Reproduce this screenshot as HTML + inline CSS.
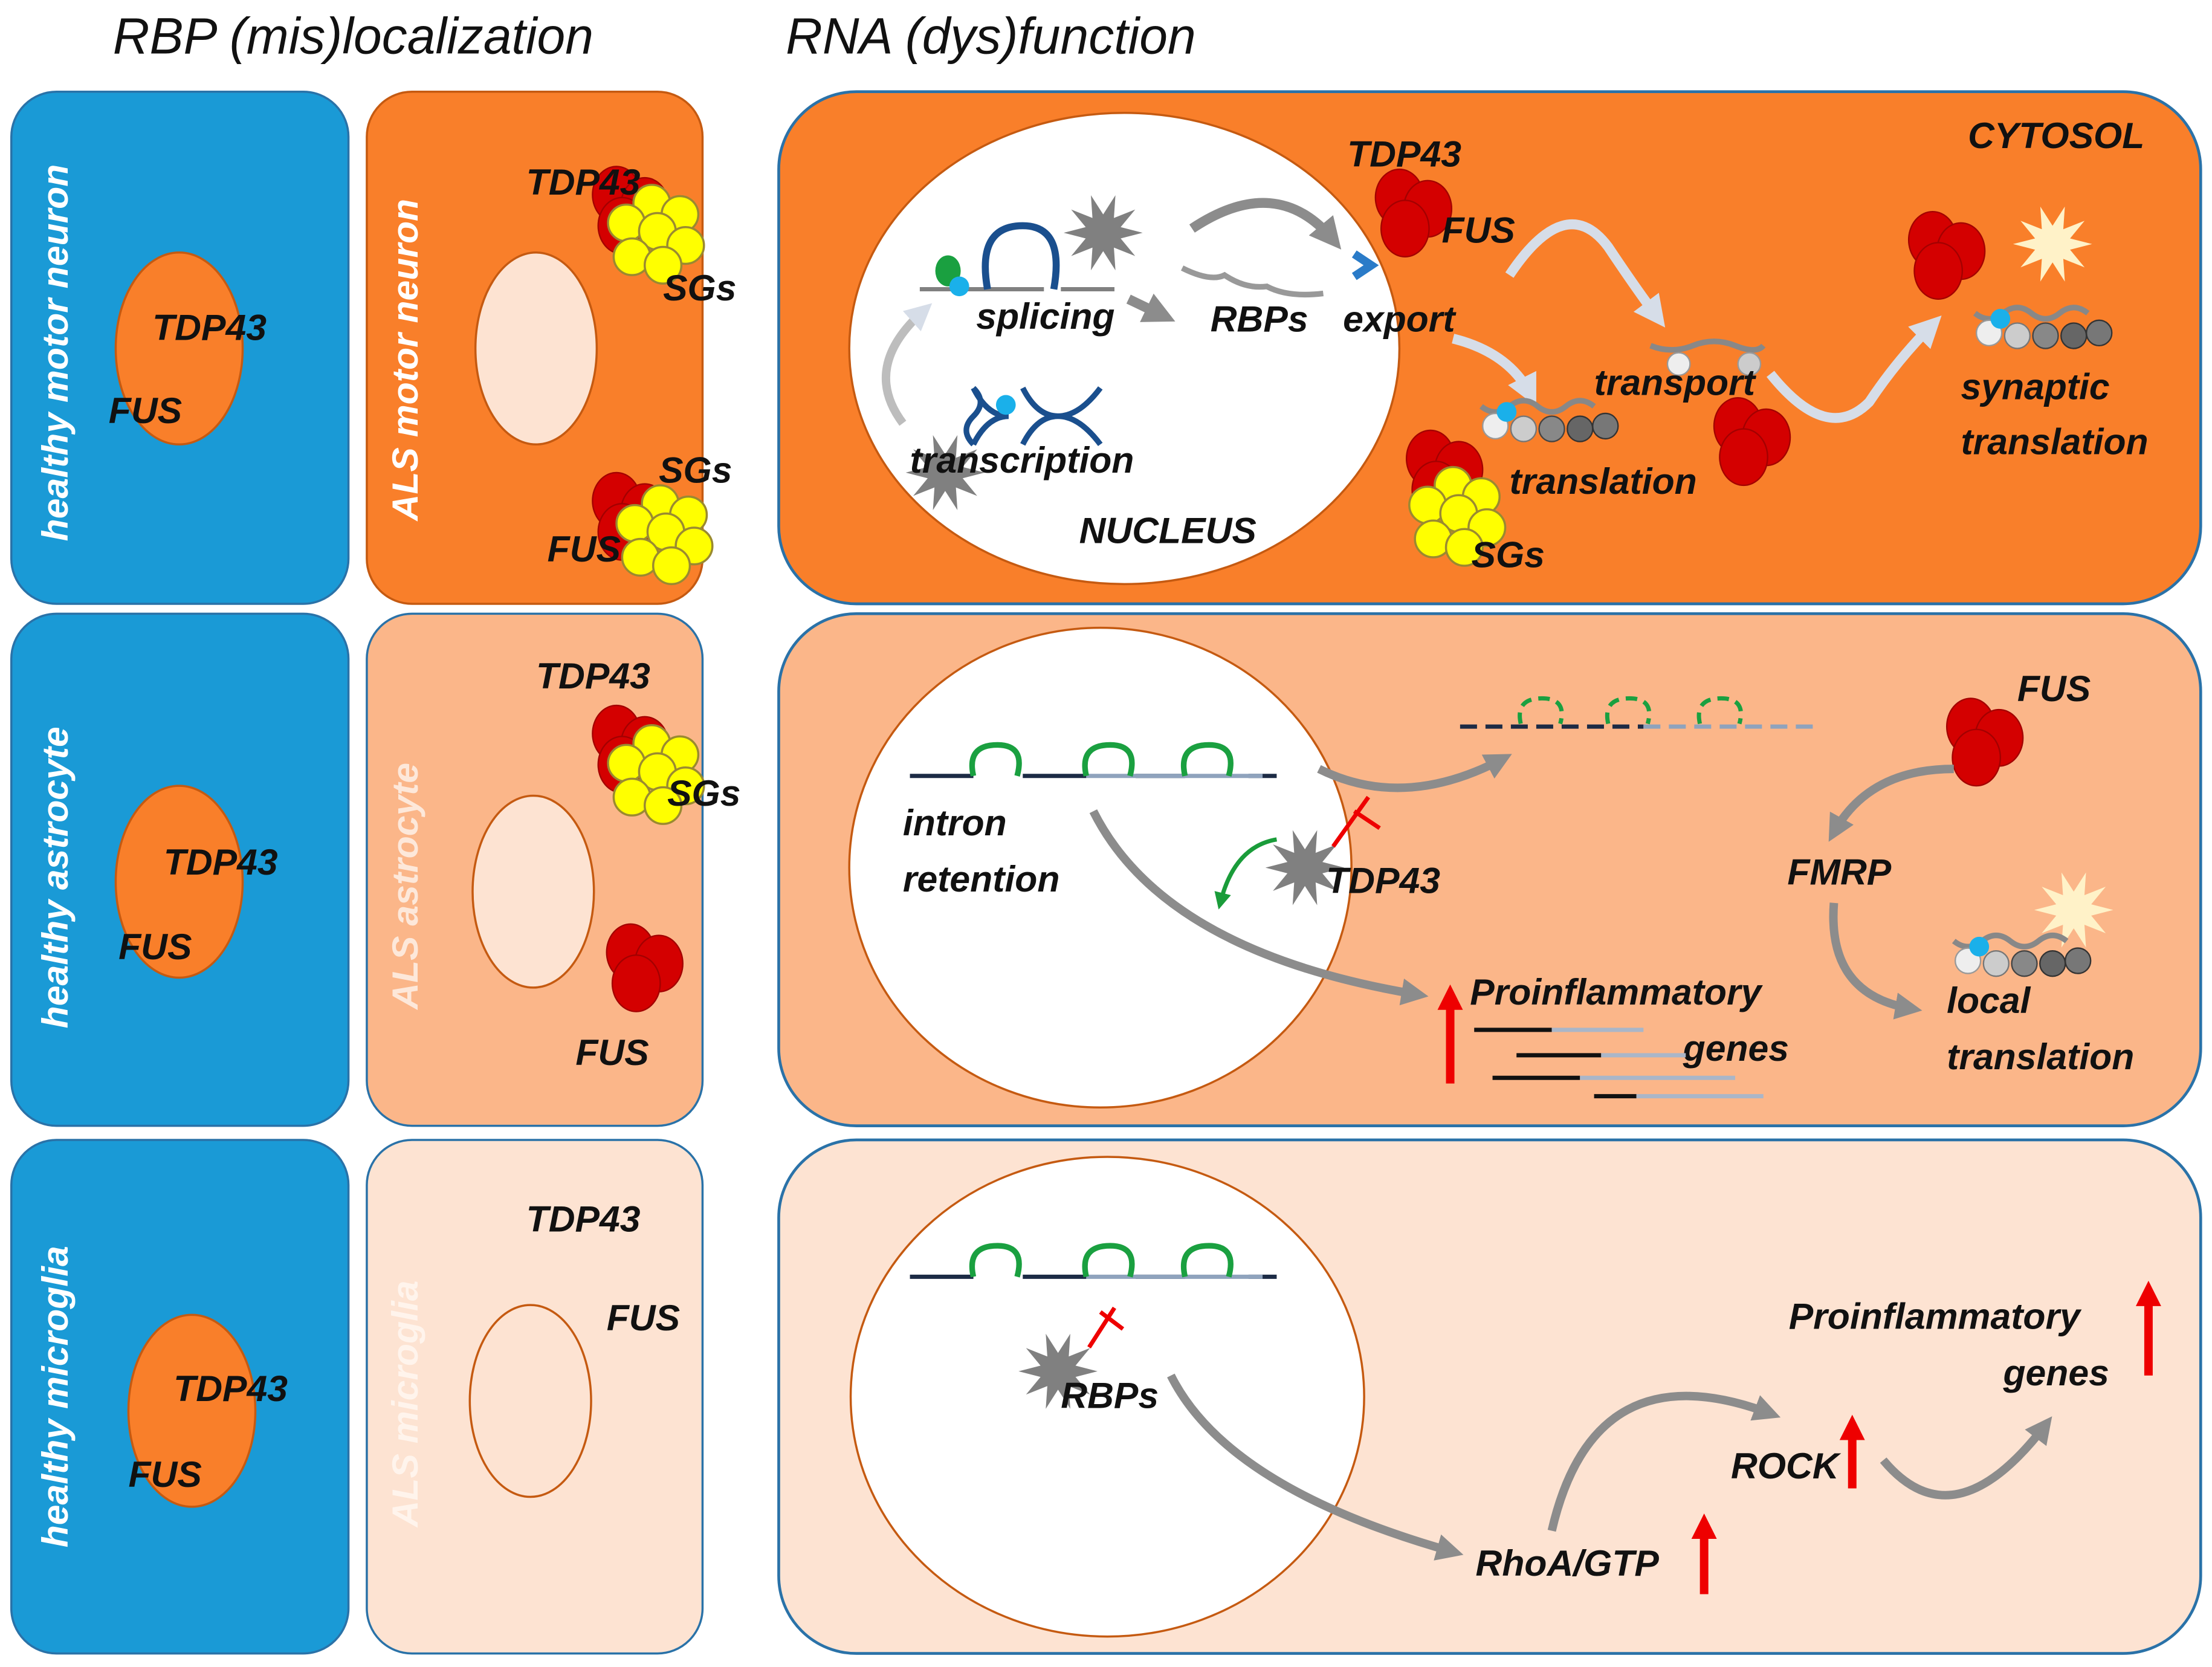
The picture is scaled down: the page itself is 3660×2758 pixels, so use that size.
<!DOCTYPE html>
<html><head><meta charset="utf-8"><style>
html,body{margin:0;padding:0;background:#fff}
svg{display:block}
text{font-family:"Liberation Sans",sans-serif;font-style:italic;font-weight:bold;font-size:26px;fill:#111}
.t{font-weight:normal;font-size:36px}
.w{fill:#fff}
</style></head><body>
<svg width="3660" height="2758" viewBox="0 0 1568 1181.6" xmlns="http://www.w3.org/2000/svg">
<defs>
<marker id="ag" viewBox="0 0 10 10" refX="6" refY="5" markerWidth="3.2" markerHeight="3.2" orient="auto"><path d="M0,0L10,5L0,10z" fill="#8c8c8c"/></marker>
<marker id="al" viewBox="0 0 10 10" refX="6" refY="5" markerWidth="3.2" markerHeight="3.2" orient="auto"><path d="M0,0L10,5L0,10z" fill="#d6dde8"/></marker>
<marker id="ar" viewBox="0 0 10 10" refX="6" refY="5" markerWidth="3" markerHeight="3" orient="auto"><path d="M0,0L10,5L0,10z" fill="#e00"/></marker>
<marker id="agr" viewBox="0 0 10 10" refX="6" refY="5" markerWidth="4" markerHeight="4" orient="auto"><path d="M0,0L10,5L0,10z" fill="#1a9c3a"/></marker>
<g id="red"><ellipse cx="-8" cy="-10" rx="17" ry="20" fill="#d40000" stroke="#a30000"/><ellipse cx="12" cy="-2" rx="17" ry="20" fill="#d40000" stroke="#a30000"/><ellipse cx="-4" cy="12" rx="17" ry="20" fill="#d40000" stroke="#a30000"/></g>
<g id="yel" fill="#ffff00" stroke="#9a8a30" stroke-width="1.5"><circle cx="0" cy="-18" r="13"/><circle cx="20" cy="-10" r="13"/><circle cx="-18" cy="-4" r="13"/><circle cx="4" cy="2" r="13"/><circle cx="24" cy="12" r="13"/><circle cx="-14" cy="20" r="13"/><circle cx="8" cy="26" r="13"/></g>
<polygon id="star" fill="#808080" points="28,0 12.4,4 22.7,16.5 7.6,10.5 8.7,26.6 0,13 -8.7,26.6 -7.6,10.5 -22.7,16.5 -12.4,4 -28,0 -12.4,-4 -22.7,-16.5 -7.6,-10.5 -8.7,-26.6 0,-13 8.7,-26.6 7.6,-10.5 22.7,-16.5 12.4,-4"/>
<polygon id="ystar" fill="#fff2c8" points="28,0 12.4,4 22.7,16.5 7.6,10.5 8.7,26.6 0,13 -8.7,26.6 -7.6,10.5 -22.7,16.5 -12.4,4 -28,0 -12.4,-4 -22.7,-16.5 -7.6,-10.5 -8.7,-26.6 0,-13 8.7,-26.6 7.6,-10.5 22.7,-16.5 12.4,-4"/>
<g id="ribo"><path d="M-40,-10 q10,8 20,0 t20,0 t20,0 t20,0" stroke="#888" stroke-width="4" fill="none"/><circle cx="-30" cy="4" r="9" fill="#eee" stroke="#999"/><circle cx="-10" cy="6" r="9" fill="#ccc" stroke="#777"/><circle cx="10" cy="6" r="9" fill="#888" stroke="#444"/><circle cx="30" cy="6" r="9" fill="#666" stroke="#333"/><circle cx="48" cy="4" r="9" fill="#777" stroke="#333"/><circle cx="-22" cy="-6" r="7" fill="#1ab0ea"/></g>
<g id="rna"><path d="M0,0H45M80,0H125M160,0H195M240,0H260" stroke="#1c2b45" stroke-width="3"/><path d="M125,0H250" stroke="#8fa3bd" stroke-width="3"/><path d="M45,0q-5,-22 17,-22 q20,0 14,22M125,0q-5,-22 17,-22 q20,0 14,22M195,0q-5,-22 17,-22 q20,0 14,22" stroke="#1aa040" stroke-width="4" fill="none"/></g>
</defs>

<text x="80" y="38" class="t">RBP (mis)localization</text>
<text x="557" y="38" class="t">RNA (dys)function</text>

<!-- column 1 -->
<rect x="8" y="65" width="239" height="363" rx="32" fill="#1a9ad6" stroke="#2a72a8" stroke-width="1.5"/>
<rect x="8" y="435" width="239" height="363" rx="32" fill="#1a9ad6" stroke="#2a72a8" stroke-width="1.5"/>
<rect x="8" y="808" width="239" height="364" rx="32" fill="#1a9ad6" stroke="#2a72a8" stroke-width="1.5"/>
<!-- column 2 -->
<rect x="260" y="65" width="238" height="363" rx="32" fill="#f97f2a" stroke="#c55a11" stroke-width="1.5"/>
<rect x="260" y="435" width="238" height="363" rx="32" fill="#fbb689" stroke="#2a72a8" stroke-width="1.5"/>
<rect x="260" y="808" width="238" height="364" rx="32" fill="#fde3d2" stroke="#2a72a8" stroke-width="1.5"/>
<!-- column 3 -->
<rect x="552" y="65" width="1008" height="363" rx="55" fill="#f97f2a" stroke="#2a72a8" stroke-width="2"/>
<rect x="552" y="435" width="1008" height="363" rx="55" fill="#fbb689" stroke="#2a72a8" stroke-width="2"/>
<rect x="552" y="808" width="1008" height="364" rx="55" fill="#fde3d2" stroke="#2a72a8" stroke-width="2"/>

<!-- healthy cells -->
<ellipse cx="127" cy="247" rx="45" ry="68" fill="#f97f2a" stroke="#c55a11" stroke-width="1.5"/>
<text x="108" y="241">TDP43</text><text x="77" y="300">FUS</text>
<ellipse cx="127" cy="625" rx="45" ry="68" fill="#f97f2a" stroke="#c55a11" stroke-width="1.5"/>
<text x="116" y="620">TDP43</text><text x="84" y="680">FUS</text>
<ellipse cx="136" cy="1000" rx="45" ry="68" fill="#f97f2a" stroke="#c55a11" stroke-width="1.5"/>
<text x="123" y="993">TDP43</text><text x="91" y="1054">FUS</text>
<text transform="translate(48,250) rotate(-90)" text-anchor="middle" class="w">healthy motor neuron</text>
<text transform="translate(48,622) rotate(-90)" text-anchor="middle" class="w">healthy astrocyte</text>
<text transform="translate(48,990) rotate(-90)" text-anchor="middle" class="w">healthy microglia</text>

<!-- ALS cells -->
<ellipse cx="380" cy="247" rx="43" ry="68" fill="#fde3d2" stroke="#c55a11" stroke-width="1.5"/>
<ellipse cx="378" cy="632" rx="43" ry="68" fill="#fde3d2" stroke="#c55a11" stroke-width="1.5"/>
<ellipse cx="376" cy="993" rx="43" ry="68" fill="#fde3d2" stroke="#c55a11" stroke-width="1.5"/>
<text transform="translate(296,255) rotate(-90)" text-anchor="middle" class="w">ALS motor neuron</text>
<text transform="translate(296,628) rotate(-90)" text-anchor="middle" fill="#fde3d2" style="fill:#fde8da">ALS astrocyte</text>
<text transform="translate(296,995) rotate(-90)" text-anchor="middle" style="fill:#fff4ec">ALS microglia</text>
<use href="#red" x="445" y="148"/><use href="#yel" x="462" y="162"/>
<use href="#red" x="445" y="365"/><use href="#yel" x="468" y="375"/>
<use href="#red" x="445" y="530"/><use href="#yel" x="462" y="545"/>
<use href="#red" x="455" y="685"/>
<text x="373" y="138">TDP43</text><text x="470" y="213">SGs</text><text x="467" y="342">SGs</text><text x="388" y="398">FUS</text>
<text x="380" y="488">TDP43</text><text x="473" y="571">SGs</text><text x="408" y="755">FUS</text>
<text x="373" y="873">TDP43</text><text x="430" y="943">FUS</text>

<!-- Row 1 col 3 -->
<ellipse cx="797" cy="247" rx="195" ry="167" fill="#fff" stroke="#c55a11" stroke-width="1.5"/>
<path d="M652,205H740M752,205H790" stroke="#808080" stroke-width="3"/>
<path d="M700,205q-8,-45 25,-45 q30,0 22,45" stroke="#1a4f8e" stroke-width="5" fill="none"/>
<ellipse cx="672" cy="192" rx="9" ry="11" fill="#1aa040"/><circle cx="680" cy="203" r="7" fill="#1ab0ea"/>
<use href="#star" x="782" y="165"/>
<use href="#star" x="670" y="335"/>
<path d="M690,275 q10,10 0,20 q-10,10 0,20 M725,275 q10,20 25,20 q15,0 30,-20 M725,315 q10,-20 25,-20 q15,0 30,20 M690,275 q10,20 25,20 M690,315 q10,-20 25,-20" stroke="#1a4f8e" stroke-width="4" fill="none"/>
<circle cx="713" cy="287" r="7" fill="#1ab0ea"/>
<path d="M640,300 q-30,-40 15,-80" stroke="#bdbdbd" stroke-width="6" fill="none" marker-end="url(#al)"/>
<path d="M845,162 q60,-40 100,8" stroke="#8c8c8c" stroke-width="7" fill="none" marker-end="url(#ag)"/>
<path d="M800,212 l25,12" stroke="#8c8c8c" stroke-width="7" fill="none" marker-end="url(#ag)"/>
<path d="M838,190 q20,10 30,5 q15,10 30,8 q15,8 40,5" stroke="#999" stroke-width="4" fill="none"/>
<path d="M960,180 l12,8 l-12,8" stroke="#2a7bc8" stroke-width="6" fill="none"/>
<use href="#red" x="1000" y="150"/>
<text x="955" y="118">TDP43</text><text x="1022" y="172">FUS</text>
<text x="1395" y="105">CYTOSOL</text>
<text x="692" y="233">splicing</text><text x="858" y="235">RBPs</text><text x="952" y="235">export</text>
<text x="645" y="335">transcription</text><text x="765" y="385">NUCLEUS</text>
<path d="M1070,195 q40,-60 70,-20 q20,30 35,50" stroke="#d6dde8" stroke-width="7" fill="none" marker-end="url(#al)"/>
<path d="M1030,240 q40,10 55,40" stroke="#d6dde8" stroke-width="7" fill="none" marker-end="url(#al)"/>
<path d="M1255,265 q40,50 70,20 q20,-30 45,-55" stroke="#d6dde8" stroke-width="7" fill="none" marker-end="url(#al)"/>
<use href="#ribo" x="1090" y="298"/>
<path d="M1170,245 q15,6 30,0 t30,0 t20,0" stroke="#888" stroke-width="4" fill="none"/><circle cx="1190" cy="258" r="8" fill="#eee" stroke="#999"/><circle cx="1240" cy="258" r="8" fill="#ccc" stroke="#999"/>
<use href="#red" x="1240" y="312"/>
<use href="#red" x="1022" y="335"/><use href="#yel" x="1030" y="362"/>
<text x="1130" y="280">transport</text><text x="1070" y="350">translation</text><text x="1043" y="402">SGs</text>
<use href="#red" x="1378" y="180"/>
<use href="#ystar" x="1455" y="173"/>
<use href="#ribo" x="1440" y="232"/>
<text x="1390" y="283">synaptic</text><text x="1390" y="322">translation</text>

<!-- Row 2 col 3 -->
<ellipse cx="780" cy="615" rx="178" ry="170" fill="#fff" stroke="#c55a11" stroke-width="1.5"/>
<use href="#rna" x="645" y="550"/>
<text x="640" y="592">intron</text><text x="640" y="632">retention</text>
<path d="M775,575 q50,100 230,130" stroke="#8c8c8c" stroke-width="6" fill="none" marker-end="url(#ag)"/>
<path d="M935,545 q60,30 130,-7" stroke="#8c8c8c" stroke-width="6" fill="none" marker-end="url(#ag)"/>
<use href="#star" x="925" y="615"/>
<path d="M945,600 l25,-35 M960,575 l18,12" stroke="#e00" stroke-width="3"/>
<path d="M905,595 q-30,5 -40,45" stroke="#1a9c3a" stroke-width="3" fill="none" marker-end="url(#agr)"/>
<text x="940" y="633">TDP43</text>
<path d="M1035,515H1165" stroke="#1c2b45" stroke-width="3" stroke-dasharray="12,6"/><path d="M1165,515H1285" stroke="#8fa3bd" stroke-width="3" stroke-dasharray="12,6"/>
<path d="M1078,513q-4,-18 15,-18q18,0 13,18M1140,513q-4,-18 15,-18q18,0 13,18M1205,513q-4,-18 15,-18q18,0 13,18" stroke="#1aa040" stroke-width="3" fill="none" stroke-dasharray="8,5"/>
<use href="#red" x="1405" y="525"/><text x="1430" y="497">FUS</text>
<path d="M1385,545 q-60,0 -85,45" stroke="#8c8c8c" stroke-width="6" fill="none" marker-end="url(#ag)"/>
<text x="1267" y="627">FMRP</text>
<path d="M1300,640 q-5,65 55,75" stroke="#8c8c8c" stroke-width="6" fill="none" marker-end="url(#ag)"/>
<use href="#ystar" x="1470" y="645"/><use href="#ribo" x="1425" y="677"/>
<text x="1380" y="718">local</text><text x="1380" y="758">translation</text>
<path d="M1028,768V705" stroke="#e00" stroke-width="6" marker-end="url(#ar)"/>
<text x="1042" y="712">Proinflammatory</text><text x="1193" y="752">genes</text>
<path d="M1045,730H1100" stroke="#111" stroke-width="3"/><path d="M1100,730H1165" stroke="#aab6c8" stroke-width="3"/>
<path d="M1075,748H1135" stroke="#111" stroke-width="3"/><path d="M1135,748H1195" stroke="#aab6c8" stroke-width="3"/>
<path d="M1058,764H1120" stroke="#111" stroke-width="3"/><path d="M1120,764H1230" stroke="#aab6c8" stroke-width="3"/>
<path d="M1130,777H1160" stroke="#111" stroke-width="3"/><path d="M1160,777H1250" stroke="#aab6c8" stroke-width="3"/>

<!-- Row 3 col 3 -->
<ellipse cx="785" cy="990" rx="182" ry="170" fill="#fff" stroke="#c55a11" stroke-width="1.5"/>
<use href="#rna" x="645" y="905"/>
<use href="#star" x="750" y="972"/>
<path d="M772,955 l18,-28 M780,930 l16,12" stroke="#e00" stroke-width="3"/>
<text x="752" y="998">RBPs</text>
<path d="M830,975 q40,80 200,125" stroke="#8c8c8c" stroke-width="6" fill="none" marker-end="url(#ag)"/>
<text x="1046" y="1117">RhoA/GTP</text>
<path d="M1208,1130V1080" stroke="#e00" stroke-width="6" marker-end="url(#ar)"/>
<path d="M1100,1085 q30,-130 155,-83" stroke="#8c8c8c" stroke-width="6" fill="none" marker-end="url(#ag)"/>
<text x="1227" y="1048">ROCK</text>
<path d="M1313,1055V1010" stroke="#e00" stroke-width="6" marker-end="url(#ar)"/>
<path d="M1335,1035 q50,60 115,-25" stroke="#8c8c8c" stroke-width="6" fill="none" marker-end="url(#ag)"/>
<text x="1268" y="942">Proinflammatory</text><text x="1420" y="982">genes</text>
<path d="M1523,975V915" stroke="#e00" stroke-width="6" marker-end="url(#ar)"/>
</svg>
</body></html>
